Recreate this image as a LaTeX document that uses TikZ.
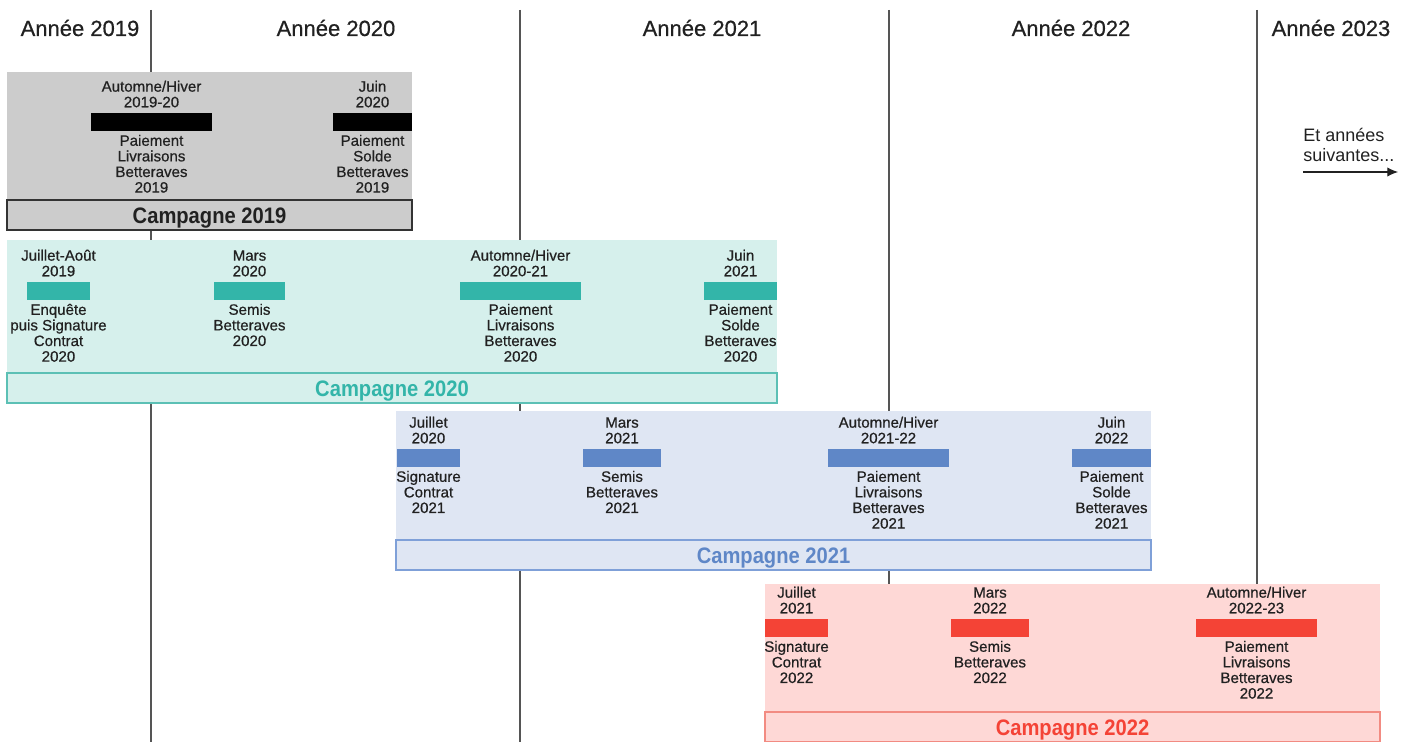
\documentclass[tikz,border=0pt]{standalone}
\usepackage{fontspec}
\setmainfont{Liberation Sans}
\usetikzlibrary{arrows.meta}
\definecolor{txt}{HTML}{212121}
\definecolor{vline}{HTML}{555555}
\definecolor{grayfill}{HTML}{CCCCCC}
\definecolor{grayborder}{HTML}{333333}
\definecolor{tealfill}{HTML}{D6F0EC}
\definecolor{tealborder}{HTML}{5CC0B5}
\definecolor{tealbar}{HTML}{33B5A9}
\definecolor{bluefill}{HTML}{DFE6F3}
\definecolor{blueborder}{HTML}{7FA0D8}
\definecolor{bluebar}{HTML}{5F87C7}
\definecolor{pinkfill}{HTML}{FED8D6}
\definecolor{pinkborder}{HTML}{F28B82}
\definecolor{redbar}{HTML}{F44336}
\newcommand{\evt}[7]{%
  \node[evbar, fill=#5, minimum width={(#3-#2)*0.75pt}] (#1) at ({(#2+#3)/2},#4) {};
  \node[toplbl] (#1t) at (#1.north) {#6};
  \node[botlbl] (#1b) at (#1.south) {#7};
}
\newcommand{\campbox}[8]{%
  % name, x1, x2, ytop, ybottom, fill, border, title
  \node[bgbox, fill=#6, minimum width={(#3-#2)*0.75pt}, minimum height={(#5-#4)*0.75pt}] (#1bg) at ({(#2+#3)/2},{(#4+#5)/2}) {};
  \node[titlebox, fill=#6, draw=#7, minimum width={(#3-#2)*0.75pt}] (#1ti) at ({(#2+#3)/2},{#5-15}) {#8};
}
\newcommand{\medw}{\addfontfeature{FakeBold=0.6}}
\begin{document}
\begin{tikzpicture}[x=0.75pt,y=-0.75pt,
  every node/.style={text=txt},
  evbar/.style={rectangle, inner sep=0pt, minimum height=18*0.75pt, draw=none},
  lblfont/.style={font=\fontsize{11.3}{11.7}\selectfont\medw},
  toplbl/.style={lblfont, anchor=south, align=center, inner sep=0pt, yshift=3.8pt},
  botlbl/.style={lblfont, anchor=north, align=center, inner sep=0pt, yshift=-2.5pt},
  bgbox/.style={rectangle, inner sep=0pt, draw=none},
  titlebox/.style={rectangle, inner sep=0pt, minimum height=30*0.75pt, text height=12.6pt, text depth=0pt, line width=0.8pt, font=\bfseries\fontsize{16.8}{18}\selectfont},
  header/.style={font=\fontsize{16.5}{18}\selectfont\medw, inner sep=0pt},
  yline/.style={vline, line width=0.9pt},
]
\useasboundingbox (0,0) rectangle (1413,742);
% year headers
\node[header] (h19) at (80,28) {Année 2019};
\node[header] (h20) at (336,28) {Année 2020};
\node[header] (h21) at (702,28) {Année 2021};
\node[header] (h22) at (1071,28) {Année 2022};
\node[header] (h23) at (1331,28) {Année 2023};
% vertical separators
\foreach \n/\x in {a/151,b/520,c/889,d/1257}{
  \coordinate (\n top) at (\x,10);
  \coordinate (\n bot) at (\x,742);
  \draw[yline] (\n top) -- (\n bot);
}
% Campagne 2019
\campbox{c19}{7}{412}{72}{230}{grayfill}{grayborder}{\scalebox{0.9}[1]{\color{txt}Campagne 2019}}
\evt{e191}{91}{212}{122}{black}{Automne/Hiver\\2019-20}{Paiement\\Livraisons\\Betteraves\\2019}
\evt{e192}{333}{412}{122}{black}{Juin\\2020}{Paiement\\Solde\\Betteraves\\2019}
% Campagne 2020
\campbox{c20}{7}{777}{240}{403}{tealfill}{tealborder}{\scalebox{0.9}[1]{\color{tealbar}Campagne 2020}}
\evt{e201}{27}{90}{291}{tealbar}{Juillet-Août\\2019}{Enquête\\puis Signature\\Contrat\\2020}
\evt{e202}{214}{285}{291}{tealbar}{Mars\\2020}{Semis\\Betteraves\\2020}
\evt{e203}{460}{581}{291}{tealbar}{Automne/Hiver\\2020-21}{Paiement\\Livraisons\\Betteraves\\2020}
\evt{e204}{704}{777}{291}{tealbar}{Juin\\2021}{Paiement\\Solde\\Betteraves\\2020}
% Campagne 2021
\campbox{c21}{396}{1151}{411}{570}{bluefill}{blueborder}{\scalebox{0.9}[1]{\color{bluebar}Campagne 2021}}
\evt{e211}{397}{460}{458}{bluebar}{Juillet\\2020}{Signature\\Contrat\\2021}
\evt{e212}{583}{661}{458}{bluebar}{Mars\\2021}{Semis\\Betteraves\\2021}
\evt{e213}{828}{949}{458}{bluebar}{Automne/Hiver\\2021-22}{Paiement\\Livraisons\\Betteraves\\2021}
\evt{e214}{1072}{1151}{458}{bluebar}{Juin\\2022}{Paiement\\Solde\\Betteraves\\2021}
% Campagne 2022
\campbox{c22}{765}{1380}{584}{742}{pinkfill}{pinkborder}{\scalebox{0.9}[1]{\color{redbar}Campagne 2022}}
\evt{e221}{765}{828}{628}{redbar}{Juillet\\2021}{Signature\\Contrat\\2022}
\evt{e222}{951}{1029}{628}{redbar}{Mars\\2022}{Semis\\Betteraves\\2022}
\evt{e223}{1196}{1317}{628}{redbar}{Automne/Hiver\\2022-23}{Paiement\\Livraisons\\Betteraves\\2022}
% following years
\node[anchor=west, align=left, inner sep=0pt, font=\fontsize{13.5}{15}\selectfont] (suiv) at (1303,145) {Et années\\suivantes...};
\coordinate (arrA) at (1303,172);
\coordinate (arrB) at (1398,172);
\draw[txt, line width=0.8pt, -{Latex[length=8pt,width=7pt]}] (arrA) -- (arrB);
\end{tikzpicture}
\end{document}
